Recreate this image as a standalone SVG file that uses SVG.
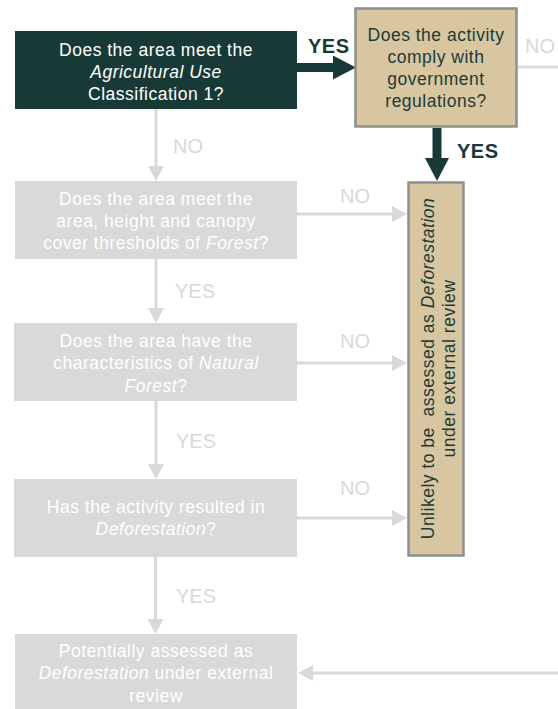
<svg xmlns="http://www.w3.org/2000/svg" width="558" height="709" viewBox="0 0 558 709">
  <style>
    text { font-family: "Liberation Sans", Arial, sans-serif; }
    .body { font-size: 17.5px; letter-spacing: 0.5px; text-anchor: middle; }
    .light { fill: #ffffff; }
    .dark { fill: #1b3b38; }
    .it { font-style: italic; }
    .pre { white-space: pre; }
    .q-dark { fill: #183a37; }
    .q-tan { fill: #d8c6a1; stroke: #8f8f8f; stroke-width: 2.5; }
    .q-grey { fill: #d9d9d9; }
    .lbl-grey { font-size: 20px; fill: #d9d9d9; }
    .lbl-dark { font-size: 20px; font-weight: bold; fill: #183a37; letter-spacing: 0.5px; }
    .wire-grey { stroke: #d9d9d9; stroke-width: 3; fill: none; }
    .wire-dark { stroke: #183a37; stroke-width: 9; fill: none; }
  </style>
  <defs>
    <marker id="head-grey" markerUnits="userSpaceOnUse" markerWidth="15" markerHeight="16" refX="0" refY="8" orient="auto">
      <path d="M0,0 L15,8 L0,16 z" fill="#d9d9d9"/>
    </marker>
    <marker id="head-dark" markerUnits="userSpaceOnUse" markerWidth="23" markerHeight="24" refX="0" refY="12" orient="auto">
      <path d="M0,0 L23,12 L0,24 z" fill="#183a37"/>
    </marker>
  </defs>

  <!-- connectors -->
  <g id="connectors">
    <line class="wire-dark" x1="297" y1="67.5" x2="333" y2="67.5" marker-end="url(#head-dark)"/>
    <line class="wire-dark" x1="437" y1="128" x2="437" y2="158" marker-end="url(#head-dark)"/>
    <line class="wire-grey" x1="518" y1="67" x2="558" y2="67"/>
    <line class="wire-grey" x1="156" y1="109" x2="156" y2="166" marker-end="url(#head-grey)"/>
    <line class="wire-grey" x1="156" y1="259" x2="156" y2="308" marker-end="url(#head-grey)"/>
    <line class="wire-grey" x1="156" y1="401" x2="156" y2="464" marker-end="url(#head-grey)"/>
    <line class="wire-grey" x1="155.5" y1="557" x2="155.5" y2="619" marker-end="url(#head-grey)"/>
    <line class="wire-grey" x1="297" y1="214" x2="392" y2="214" marker-end="url(#head-grey)"/>
    <line class="wire-grey" x1="297" y1="363" x2="392" y2="363" marker-end="url(#head-grey)"/>
    <line class="wire-grey" x1="297" y1="518" x2="392" y2="518" marker-end="url(#head-grey)"/>
    <line class="wire-grey" x1="558" y1="673" x2="313" y2="673" marker-end="url(#head-grey)"/>

    <text class="lbl-dark" x="308" y="52.5">YES</text>
    <text class="lbl-dark" x="457" y="158">YES</text>
    <text class="lbl-grey" x="525" y="53">NO</text>
    <text class="lbl-grey" x="173" y="152.5">NO</text>
    <text class="lbl-grey" x="175" y="298">YES</text>
    <text class="lbl-grey" x="176" y="448">YES</text>
    <text class="lbl-grey" x="176" y="602.5">YES</text>
    <text class="lbl-grey" x="340" y="202.5">NO</text>
    <text class="lbl-grey" x="340" y="348">NO</text>
    <text class="lbl-grey" x="340" y="495">NO</text>
  </g>

  <!-- agricultural use question -->
  <g id="q-agri">
    <rect class="q-dark" x="15" y="31" width="282" height="78"/>
    <text class="body light" x="156" y="56">Does the area meet the</text>
    <text class="body light it" x="156" y="77.5">Agricultural Use</text>
    <text class="body light" x="156" y="99.5">Classification 1?</text>
  </g>

  <!-- regulatory compliance question -->
  <g id="q-comply">
    <rect class="q-tan" x="355.5" y="8.5" width="161" height="118"/>
    <text class="body dark" x="436" y="41">Does the activity</text>
    <text class="body dark" x="436" y="63">comply with</text>
    <text class="body dark" x="436" y="85">government</text>
    <text class="body dark" x="436" y="107">regulations?</text>
  </g>

  <!-- unlikely outcome -->
  <g id="out-unlikely">
    <rect class="q-tan" x="408.5" y="182.5" width="55" height="373"/>
    <text class="body dark pre" transform="translate(434,368.5) rotate(-90)">Unlikely to be  assessed as <tspan class="it">Deforestation</tspan></text>
    <text class="body dark" transform="translate(455,368.5) rotate(-90)">under external review</text>
  </g>

  <!-- forest thresholds question -->
  <g id="q-forest">
    <rect class="q-grey" x="15" y="181" width="282" height="78"/>
    <text class="body light" x="156" y="205">Does the area meet the</text>
    <text class="body light" x="156" y="227">area, height and canopy</text>
    <text class="body light" x="156" y="248.5">cover thresholds of <tspan class="it">Forest</tspan>?</text>
  </g>

  <!-- natural forest question -->
  <g id="q-natural">
    <rect class="q-grey" x="14" y="323" width="283" height="78"/>
    <text class="body light" x="156" y="346.5">Does the area have the</text>
    <text class="body light" x="156" y="369">characteristics of <tspan class="it">Natural</tspan></text>
    <text class="body light" x="156" y="391.5"><tspan class="it">Forest</tspan>?</text>
  </g>

  <!-- deforestation question -->
  <g id="q-deforest">
    <rect class="q-grey" x="14" y="479" width="283" height="78"/>
    <text class="body light" x="156" y="513">Has the activity resulted in</text>
    <text class="body light" x="156" y="535"><tspan class="it">Deforestation</tspan>?</text>
  </g>

  <!-- potential outcome -->
  <g id="out-potential">
    <rect class="q-grey" x="15" y="634" width="282" height="80"/>
    <text class="body light" x="156" y="657">Potentially assessed as</text>
    <text class="body light" x="156" y="679"><tspan class="it">Deforestation</tspan> under external</text>
    <text class="body light" x="156" y="701.5">review</text>
  </g>
</svg>
